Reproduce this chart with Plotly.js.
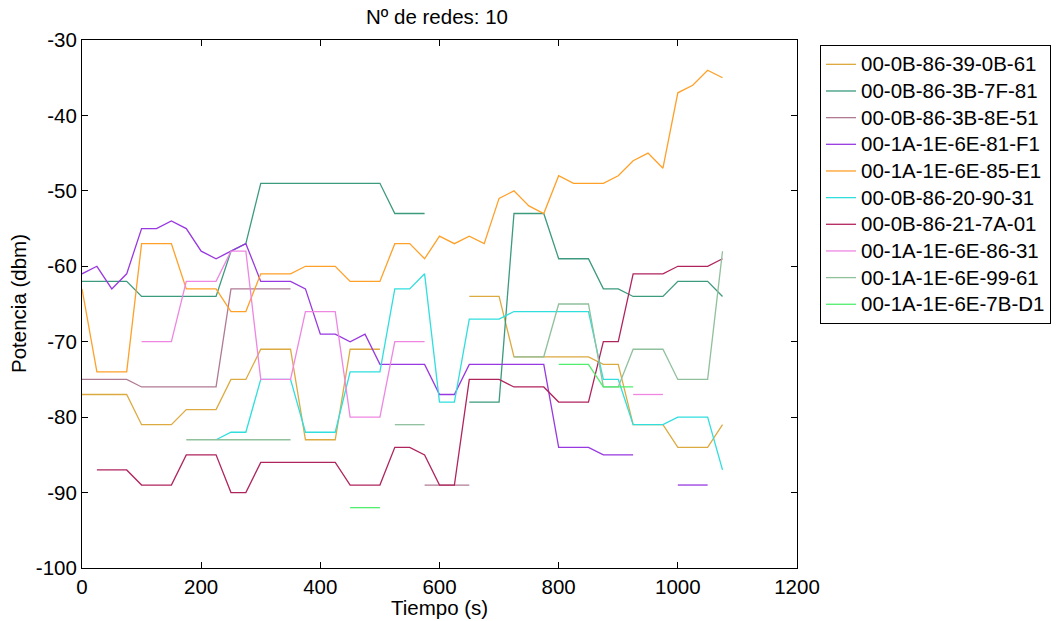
<!DOCTYPE html>
<html>
<head>
<meta charset="utf-8">
<script src="https://cdn.plot.ly/plotly-3.0.1.min.js"></script>
<style>
  html, body { margin: 0; padding: 0; background: #ffffff; }
  #grafica { width: 1060px; height: 621px; }
</style>
</head>
<body>
<div id="grafica"></div>
<script>
// Instantes de muestreo (s)
const tiempo = [0, 25, 50, 75, 100, 125, 150, 175, 200, 225, 250, 275, 300, 325, 350, 375, 400, 425, 450, 475,
  500, 525, 550, 575, 600, 625, 650, 675, 700, 725, 750, 775, 800, 825, 850, 875, 900, 925, 950, 975,
  1000, 1025, 1050, 1075];

// Potencia recibida (dBm) por cada red; null = red no detectada
const red_39_0B_61 = [-77, -77, -77, -77, -81, -81, -81, -79, -79, -79, -75, -75, -71, -71, -71, -83, -83, -83, -71, -71,
  -71, null, null, null, null, null, -64, -64, -64, -72, -72, -72, -72, -72, -72, -73, -73, -81, -81, -81,
  -84, -84, -84, -81];
const red_3B_7F_81 = [-62, -62, -62, -62, -64, -64, -64, -64, -64, -64, -58, -57, -49, -49, -49, -49, -49, -49, -49, -49,
  -49, -53, -53, -53, null, null, -78, -78, -78, -53, -53, -53, -59, -59, -59, -63, -63, -64, -64, -64,
  -62, -62, -62, -64];
const red_3B_8E_51 = [-75, -75, -75, -75, -76, -76, -76, -76, -76, -76, -63, -63, -63, -63, -63, null, null, null, null, null,
  null, null, null, -89, -89, -89, -89, null, null, null, null, null, null, null, null, null, null, null, null, null,
  null, null, null, null];
const red_81_F1 = [-61, -60, -63, -61, -55, -55, -54, -55, -58, -59, -58, -57, -62, -62, -62, -63, -69, -69, -70, -69,
  -73, -73, -73, -73, -77, -77, -73, -73, -73, -73, -73, -73, -84, -84, -84, -85, -85, -85, null, null,
  -89, -89, -89, null];
const red_85_E1 = [-63, -74, -74, -74, -57, -57, -57, -63, -63, -63, -66, -66, -61, -61, -61, -60, -60, -60, -62, -62,
  -62, -57, -57, -59, -56, -57, -56, -57, -51, -50, -52, -53, -48, -49, -49, -49, -48, -46, -45, -47,
  -37, -36, -34, -35];
const red_20_90_31 = [null, null, null, null, null, null, null, null, null, -83, -82, -82, -75, -75, -75, -82, -82, -82, -74, -74,
  -74, -63, -63, -61, -78, -78, -67, -67, -67, -66, -66, -66, -66, -66, -66, -75, -75, -81, -81, -81,
  -80, -80, -80, -87];
const red_21_7A_01 = [null, -87, -87, -87, -89, -89, -89, -85, -85, -85, -90, -90, -86, -86, -86, -86, -86, -86, -89, -89,
  -89, -84, -84, -85, -89, -89, -75, -75, -75, -76, -76, -76, -78, -78, -78, -70, -70, -61, -61, -61,
  -60, -60, -60, -59];
const red_86_31 = [null, null, null, null, -70, -70, -70, -62, -62, -62, -58, -58, -75, -75, -75, -66, -66, -66, -80, -80,
  -80, -70, -70, -70, null, null, null, null, null, null, null, null, null, null, null, null, null, -77, -77, -77,
  null, null, null, null];
const red_99_61 = [null, null, null, null, null, null, null, -83, -83, -83, -83, -83, -83, -83, -83, null, null, null, null, null,
  null, -81, -81, -81, null, null, null, null, null, -72, -72, -72, -65, -65, -65, -76, -76, -71, -71, -71,
  -75, -75, -75, -58];
const red_7B_D1 = [null, null, null, null, null, null, null, null, null, null, null, null, null, null, null, null, null, null, -92, -92,
  -92, null, null, null, null, null, null, null, null, null, null, null, -73, -73, -73, -76, -76, -76, null, null,
  null, null, null, null];

const nombres = ['00-0B-86-39-0B-61', '00-0B-86-3B-7F-81', '00-0B-86-3B-8E-51', '00-1A-1E-6E-81-F1',
  '00-1A-1E-6E-85-E1', '00-0B-86-20-90-31', '00-0B-86-21-7A-01', '00-1A-1E-6E-86-31',
  '00-1A-1E-6E-99-61', '00-1A-1E-6E-7B-D1'];
const series = [red_39_0B_61, red_3B_7F_81, red_3B_8E_51, red_81_F1, red_85_E1,
  red_20_90_31, red_21_7A_01, red_86_31, red_99_61, red_7B_D1];
const colores = ['#dcaa40', '#3c9a7e', '#b07a94', '#9838e0', '#ffa028',
  '#30dede', '#b0245e', '#ee86e2', '#90c09c', '#50ee6c'];

// Marcas de los ejes
const ticksX = [0, 200, 400, 600, 800, 1000, 1200];
const ticksY = [-100, -90, -80, -70, -60, -50, -40, -30];
const etiquetasY = ['-100', '-90', '-80', '-70', '-60', '-50', '-40', '-30'];

const fuente = 'Liberation Sans, Arial, sans-serif';
const tam = 20.5;

// La leyenda usa un tamaño base menor para compactar las filas; el texto se dibuja a tamaño completo
const trazas = series.map((valores, k) => ({
  type: 'scatter',
  mode: 'lines',
  x: tiempo,
  y: valores,
  name: '<span style="font-size:' + tam + 'px">' + nombres[k] + '</span>',
  connectgaps: false,
  line: { color: colores[k], width: 1.3 }
}));

const ejeComun = {
  showgrid: false,
  zeroline: false,
  showline: true,
  linecolor: '#000000',
  linewidth: 1,
  mirror: 'ticks',
  ticks: 'inside',
  ticklen: 6,
  tickcolor: '#000000',
  tickfont: { family: fuente, size: tam, color: '#000000' }
};

const layout = {
  width: 1060,
  height: 621,
  paper_bgcolor: '#ffffff',
  plot_bgcolor: '#ffffff',
  margin: { l: 82, r: 263, t: 40, b: 53, autoexpand: false },
  title: {
    text: 'Nº de redes: 10',
    font: { family: fuente, size: tam, color: '#000000' },
    x: 0.4123, xanchor: 'center',
    y: 1 - 17 / 621, yanchor: 'middle', xref: 'container', yref: 'container'
  },
  xaxis: Object.assign({}, ejeComun, {
    range: [0, 1200],
    tickmode: 'array',
    tickvals: ticksX,
    ticktext: ticksX.map(String)
  }),
  yaxis: Object.assign({}, ejeComun, {
    range: [-100, -30],
    tickmode: 'array',
    tickvals: ticksY,
    ticktext: etiquetasY
  }),
  // Rótulos de los ejes, colocados fuera del área de trazado
  annotations: [
    {
      text: 'Tiempo (s)', showarrow: false, borderpad: 0,
      xref: 'paper', x: 0.5, xanchor: 'center',
      yref: 'paper', y: -39 / 528, yanchor: 'middle',
      font: { family: fuente, size: tam, color: '#000000' }
    },
    {
      text: 'Potencia (dbm)', showarrow: false, textangle: -90, borderpad: 0,
      xref: 'paper', x: -64 / 715, xanchor: 'center',
      yref: 'paper', y: 0.5, yanchor: 'middle',
      font: { family: fuente, size: tam, color: '#000000' }
    }
  ],
  showlegend: true,
  legend: {
    xref: 'container', yref: 'container',
    x: 820 / 1060, y: 1 - 45 / 621,
    xanchor: 'left', yanchor: 'top',
    bgcolor: '#ffffff',
    bordercolor: '#000000',
    borderwidth: 1,
    font: { family: fuente, size: 18.2, color: '#000000' },
    itemwidth: 30,
    tracegroupgap: 0
  }
};

Plotly.newPlot('grafica', trazas, layout, { displayModeBar: false, staticPlot: true });
</script>
</body>
</html>
